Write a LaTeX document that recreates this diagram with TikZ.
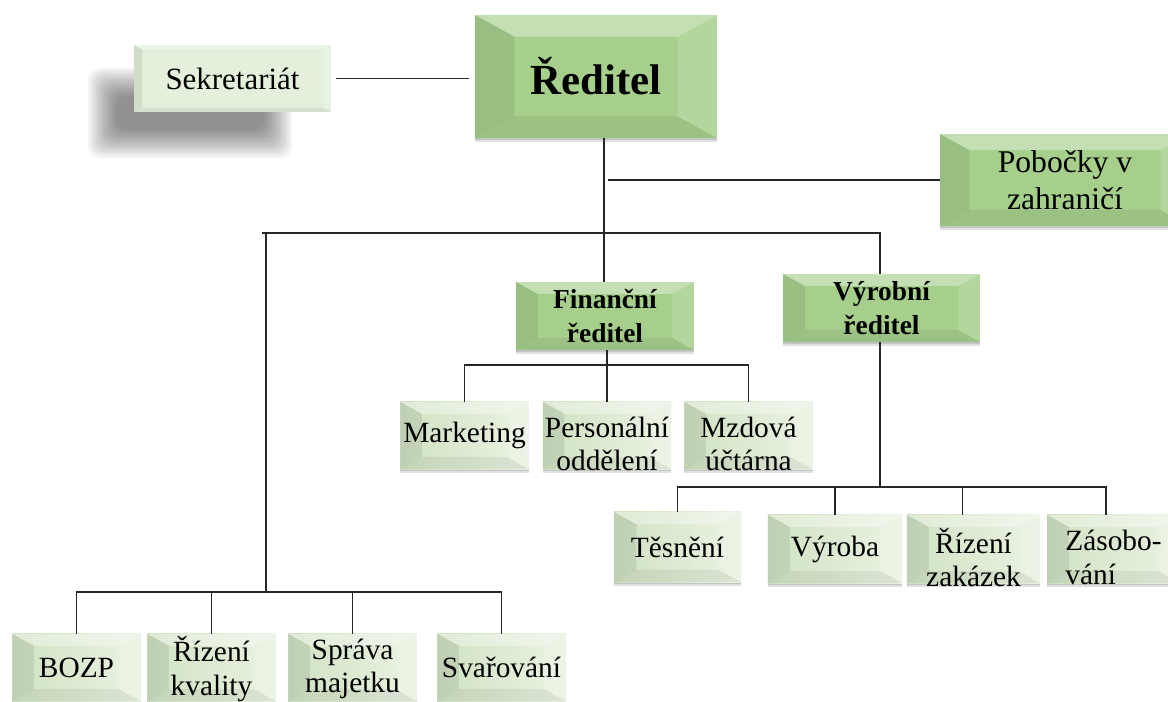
\documentclass[tikz,border=0pt]{standalone}
\usepackage{fontspec}
\setmainfont{Liberation Serif}
\usetikzlibrary{calc,shadows}

\definecolor{mainG}{RGB}{166,207,140}
\definecolor{leafD}{RGB}{208,226,194}
\definecolor{leafL}{RGB}{234,243,227}
\definecolor{sekG}{RGB}{227,240,219}

\begin{document}
\begin{tikzpicture}[x=0.025cm,y=-0.025cm,
  bevel/.style={path picture={
    \path let \p1=(path picture bounding box.north east), \p2=(path picture bounding box.south west),
      \n1={#1*(\y1-\y2)}, \n2={0.55*#1*(\y1-\y2)} in
      coordinate (bNE) at (\x1,\y1) coordinate (bSW) at (\x2,\y2)
      coordinate (bNW) at (\x2,\y1) coordinate (bSE) at (\x1,\y2)
      coordinate (iNE) at (\x1-\n1,\y1-\n2) coordinate (iNW) at (\x2+\n1,\y1-\n2)
      coordinate (iSW) at (\x2+\n1,\y2+\n2) coordinate (iSE) at (\x1-\n1,\y2+\n2);
    \fill[white,opacity=.35] (bNW) -- (bNE) -- (iNE) -- (iNW) -- cycle;
    \fill[black,opacity=.08] (bNW) -- (iNW) -- (iSW) -- (bSW) -- cycle;
    \fill[white,opacity=.15] (bNE) -- (iNE) -- (iSE) -- (bSE) -- cycle;
    \fill[black,opacity=.06] (bSW) -- (iSW) -- (iSE) -- (bSE) -- cycle;
  }},
  boxshadow/.style={general shadow={fill=black,opacity=.12,shadow yshift=-2.5pt},
    general shadow={fill=black,opacity=.12,shadow yshift=-1.2pt}},
  head/.style={fill=mainG, bevel=0.32, inner sep=0pt, align=center, boxshadow},
  leaf/.style={left color=leafD, right color=leafL, bevel=0.32, inner sep=0pt, align=center,
    minimum width=3.2cm, minimum height=1.675cm, font=\fontsize{20.9}{23.4}\selectfont, boxshadow},
  twoline/.style={align=center, inner sep=0pt, yshift=-6pt, font=\fontsize{20.9}{24}\selectfont},
  link/.style={line width=1.1pt, black!85}]

\useasboundingbox[fill=white] (0,0) rectangle (1168,702);

% soft shadow behind the secretariat
\foreach \i in {0,...,11}
  \fill[black,opacity=.042,rounded corners=8pt] (88+\i*2.5,68+\i*2.5) rectangle (292-\i*2.5,158-\i*2.5);

\node[fill=sekG, bevel=0.12, inner sep=0pt, minimum width=4.925cm, minimum height=1.675cm, font=\fontsize{22}{25}\selectfont] (sek) at (232.5,78.5) {Sekretariát};
\node[head, minimum width=6.05cm, minimum height=3.075cm, font=\bfseries\fontsize{30.5}{34}\selectfont] (red) at (596,76.5) {Ředitel};
\node[head, minimum width=6.25cm, minimum height=2.3cm, font=\fontsize{22.5}{26}\selectfont] (pob) at (1065,180) {Pobočky v\\zahraničí};
\node[head, minimum width=4.45cm, minimum height=1.7cm, font=\bfseries\fontsize{19.5}{24}\selectfont] (fin) at (605,316) {Finanční\\ředitel};
\node[head, minimum width=4.925cm, minimum height=1.7cm, font=\bfseries\fontsize{19.5}{24}\selectfont] (vyr) at (881.5,308) {Výrobní\\ředitel};

\node[leaf] (mkt) at (464.5,435.5) {Marketing};
\node[leaf, label={[twoline]center:{Personální\\oddělení}}] (per) at (607,435.5) {};
\node[leaf, label={[twoline]center:{Mzdová\\účtárna}}] (mzd) at (748.5,435.5) {};

\node[leaf, minimum width=3.175cm, minimum height=1.75cm] (tes) at (677.5,547) {Těsnění};
\node[leaf, minimum width=3.35cm, minimum height=1.7cm] (vyk) at (835,549) {Výroba};
\node[leaf, minimum width=3.325cm, minimum height=1.7cm, label={[twoline]center:{Řízení\\zakázek}}] (rz) at (973.5,549) {};
\node[leaf, minimum width=3.325cm, minimum height=1.7cm, label={[twoline, align=left]center:{Zásobo-\\vání}}] (zas) at (1113.5,549) {};

\node[leaf] (boz) at (76.5,667.5) {BOZP};
\node[leaf, label={[twoline, yshift=5pt]center:{Řízení\\kvality}}] (rk) at (211.5,667.5) {};
\node[leaf, label={[twoline, yshift=5pt]center:{Správa\\majetku}}] (spr) at (352.5,667.5) {};
\node[leaf] (sva) at (501.5,667.5) {Svařování};

\coordinate (tbus) at (604,233);
\coordinate (ltop) at (262,233);
\coordinate (lbus) at (266,592);
\coordinate (fbus) at (607,365);
\coordinate (vbus) at (880,487);

\draw[link, shorten <=3pt, shorten >=4pt] (sek.east) -- (sek.east -| red.west);
\draw[link] (red.south -| tbus) -- (tbus);
\draw[link, shorten <=3pt] (tbus |- pob.west) -- (pob.west);
\draw[link] (ltop) -- (tbus) -| (vbus |- vyr.north);
\draw[link] (tbus) -- (tbus |- fin.north);
\draw[link] (lbus |- tbus) -- (lbus);

\draw[link] (boz.north) |- (lbus) -| (sva.north);
\draw[link] (rk.north) -- (rk.north |- lbus);
\draw[link] (spr.north) -- (spr.north |- lbus);

\draw[link] (per.north |- fin.south) -- (per.north);
\draw[link] (mkt.north) |- (fbus) -| (mzd.north);

\draw[link] (vyr.south -| vbus) -- (vbus);
\draw[link] (tes.north) |- (vbus) -| ([xshift=-0.19cm]zas.north);
\draw[link] (vyk.north) -- (vyk.north |- vbus);
\draw[link] ([xshift=-0.28cm]rz.north) -- ++(0,-28);

\end{tikzpicture}
\end{document}
